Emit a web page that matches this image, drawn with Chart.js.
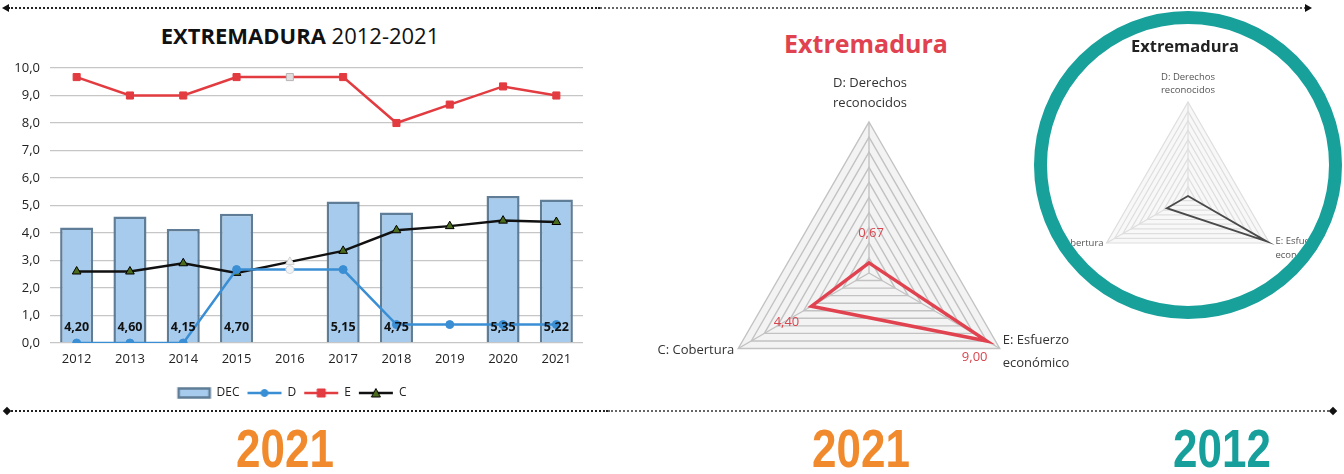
<!DOCTYPE html>
<html>
<head>
<meta charset="utf-8">
<script src="https://cdn.jsdelivr.net/npm/chart.js@4.4.0/dist/chart.umd.min.js"></script>
<style>
  body { margin: 0; width: 1344px; height: 474px; background: #fff; position: relative; overflow: hidden; font-family: "Open Sans", sans-serif; }
  .abs { position: absolute; }
  .dotted { position: absolute; height: 0; border-top: 2px dotted #333; }
  .tip-l { position: absolute; width: 0; height: 0; border-top: 4px solid transparent; border-bottom: 4px solid transparent; border-right: 7px solid #111; }
  .tip-r { position: absolute; width: 0; height: 0; border-top: 4px solid transparent; border-bottom: 4px solid transparent; border-left: 7px solid #111; }
  .dia { position: absolute; width: 6px; height: 6px; background: #111; transform: rotate(45deg); }
  .year { position: absolute; width: 200px; text-align: center; font-family: "Liberation Sans", Arial, sans-serif; font-weight: bold; font-size: 53px; line-height: 1; transform: scaleX(0.83); }
  #ring { position: absolute; left: 1034px; top: 11px; width: 308px; height: 308px; box-sizing: border-box; border: 13px solid #18a09b; border-radius: 50%; overflow: hidden; background: #fff; }
</style>
</head>
<body>

<!-- timeline rules -->
<div class="dotted" style="left:8px; top:7px; width:592px; border-top-color:#222;"></div>
<div class="dotted" style="left:600px; top:7px; width:706px; border-top-color:#666;"></div>
<div class="tip-l" style="left:2px; top:4px;"></div>
<div class="tip-r" style="left:1305px; top:4px;"></div>

<div class="dotted" style="left:8px; top:410px; width:600px; border-top-color:#222;"></div>
<div class="dotted" style="left:608px; top:410px; width:724px; border-top-color:#666;"></div>
<div class="dia" style="left:4px; top:408px;"></div>
<div class="dia" style="left:1330px; top:408px;"></div>

<!-- trend chart -->
<div class="abs" style="left:0; top:23px; width:600px; text-align:center; font-size:22px; line-height:24px; color:#111;"><b>EXTREMADURA</b> 2012-2021</div>
<canvas id="trend" class="abs" width="600" height="410" style="left:0; top:0;"></canvas>

<!-- radar 2021 -->
<div class="abs" style="left:666px; top:26px; width:400px; text-align:center; font-size:25px; font-weight:bold; line-height:34px; color:#e0434f;">Extremadura</div>
<canvas id="radar2021" class="abs" width="500" height="380" style="left:620px; top:60px;"></canvas>

<!-- radar 2012, framed -->
<div id="ring">
  <div class="abs" style="left:0; top:10px; width:276px; text-align:center; font-size:16.5px; font-weight:bold; line-height:24px; color:#222;">Extremadura</div>
  <canvas id="radar2012" class="abs" width="282" height="282" style="left:0; top:0;"></canvas>
</div>

<div class="year" style="left:185px; top:422px; color:#f08a2d;">2021</div>
<div class="year" style="left:761px; top:422px; color:#f08a2d;">2021</div>
<div class="year" style="left:1122px; top:422px; color:#17a09b;">2012</div>

<script>
const years = ['2012', '2013', '2014', '2015', '2016', '2017', '2018', '2019', '2020', '2021'];
const decValues = [4.20, 4.60, 4.15, 4.70, null, 5.15, 4.75, null, 5.35, 5.22];
const dValues = [0, 0, 0, 2.67, 2.67, 2.67, 0.67, 0.67, 0.67, 0.67];
const eValues = [9.67, 9.00, 9.00, 9.67, 9.67, 9.67, 8.00, 8.67, 9.33, 9.00];
const cValues = [2.60, 2.60, 2.90, 2.55, 2.95, 3.35, 4.10, 4.25, 4.45, 4.40];
const estimatedYear = '2016';
const radarAxes = [['D: Derechos', 'reconocidos'], ['E: Esfuerzo', 'económico'], ['C: Cobertura']];

const barFill = '#a6cbec';
const barBorder = '#5f7d97';
const blue = '#3a8ed4';
const red = '#e23b40';
const black = '#111';
const olive = '#4a6a1c';

const comma = (v, d) => v.toFixed(d).replace('.', ',');

// radar series for one year, in axis order D, E, C
function yearValues(year) {
  const i = years.indexOf(year);
  return [dValues[i], eValues[i], cValues[i]];
}

// marker colours: the estimated year gets a pale marker
const markerFill = (normal, pale) => years.map(y => y === estimatedYear ? pale : normal);

// ----- legend icons (line + marker) -----
function makeIcon(draw) {
  const c = document.createElement('canvas');
  c.width = 36; c.height = 12;
  draw(c.getContext('2d'));
  return c;
}
function lineIcon(color, marker, fill) {
  return makeIcon(g => {
    g.strokeStyle = color; g.lineWidth = 2.5;
    g.beginPath(); g.moveTo(1, 6); g.lineTo(35, 6); g.stroke();
    g.fillStyle = fill; g.strokeStyle = color === black ? '#000' : color; g.lineWidth = 1;
    g.beginPath();
    if (marker === 'circle') g.arc(18, 6, 3.5, 0, Math.PI * 2);
    if (marker === 'rect') g.rect(14, 2, 8, 8);
    if (marker === 'triangle') { g.moveTo(18, 1.5); g.lineTo(22.5, 10); g.lineTo(13.5, 10); g.closePath(); }
    g.fill(); g.stroke();
  });
}
const legendIcons = [
  makeIcon(g => {
    g.fillStyle = barFill; g.strokeStyle = barBorder; g.lineWidth = 2.5;
    g.fillRect(3, 1.5, 31, 9); g.strokeRect(3, 1.5, 31, 9);
  }),
  lineIcon(blue, 'circle', blue),
  lineIcon(red, 'rect', red),
  lineIcon(black, 'triangle', olive)
];

// value labels at the foot of each bar
const barLabels = {
  id: 'barLabels',
  afterDatasetsDraw(chart) {
    const ctx = chart.ctx;
    const meta = chart.getDatasetMeta(0);
    ctx.save();
    ctx.font = 'bold 12.5px "Open Sans"';
    ctx.fillStyle = '#111';
    ctx.textAlign = 'center';
    ctx.textBaseline = 'middle';
    meta.data.forEach((bar, i) => {
      const v = chart.data.datasets[0].data[i];
      if (v == null) return;
      ctx.fillText(comma(v, 2), bar.x, bar.base - 15);
    });
    ctx.restore();
  }
};

new Chart(document.getElementById('trend'), {
  data: {
    labels: years,
    datasets: [
      { type: 'bar', label: 'DEC', data: decValues, backgroundColor: barFill, borderColor: barBorder,
        borderWidth: 2.5, barPercentage: 0.62, categoryPercentage: 1, order: 1 },
      { type: 'line', label: 'D', data: dValues, borderColor: blue, borderWidth: 2.5, tension: 0,
        pointStyle: 'circle', pointRadius: 4, pointBorderWidth: 1,
        pointBackgroundColor: markerFill(blue, '#f4f4f4'), pointBorderColor: markerFill(blue, '#cfd8e0'), order: 0 },
      { type: 'line', label: 'E', data: eValues, borderColor: red, borderWidth: 2.5, tension: 0,
        pointStyle: 'rect', pointRadius: 5, pointBorderWidth: 1,
        pointBackgroundColor: markerFill(red, '#e2dede'), pointBorderColor: markerFill(red, '#b9b3b3'), order: 0 },
      { type: 'line', label: 'C', data: cValues, borderColor: black, borderWidth: 2.5, tension: 0,
        pointStyle: 'triangle', pointRadius: 5, pointBorderWidth: 1,
        pointBackgroundColor: markerFill(olive, '#f2f2f2'), pointBorderColor: markerFill('#000', '#d0d0d0'), order: 0 }
    ]
  },
  options: {
    responsive: false,
    animation: false,
    layout: { padding: { top: 68, left: 0, right: 17, bottom: 1 } },
    plugins: {
      tooltip: { enabled: false },
      legend: {
        position: 'bottom',
        labels: {
          usePointStyle: true,
          pointStyleWidth: 34,
          boxHeight: 12,
          padding: 8,
          color: '#222',
          font: { family: 'Open Sans', size: 12 },
          generateLabels: chart => chart.data.datasets.map((ds, i) => ({
            text: ds.label, pointStyle: legendIcons[i], datasetIndex: i, hidden: false,
            lineWidth: 0, fillStyle: 'rgba(0,0,0,0)', strokeStyle: 'rgba(0,0,0,0)', fontColor: '#222'
          }))
        }
      }
    },
    scales: {
      x: {
        grid: { display: false, drawTicks: false },
        border: { display: false },
        ticks: { padding: 8, color: '#222', font: { family: 'Open Sans', size: 13 } },
        afterFit: s => { s.height = 36; }
      },
      y: {
        min: 0, max: 10,
        grid: { color: '#c6c6c6', lineWidth: 1.3, drawTicks: false },
        border: { display: false },
        ticks: { stepSize: 1, padding: 10, color: '#222', font: { family: 'Open Sans', size: 13 },
                 callback: v => comma(v, 1) },
        afterFit: s => { s.width = 50; }
      }
    }
  },
  plugins: [barLabels]
});

// ----- radar charts -----
// axis names and value tags drawn next to the scale's own vertex positions
function radarText(cfg) {
  return {
    id: 'radarText',
    afterDraw(chart) {
      const r = chart.scales.r;
      const ctx = chart.ctx;
      const data = chart.data.datasets[0].data;
      ctx.save();
      ctx.textBaseline = 'middle';
      ctx.font = cfg.axisFont;
      ctx.fillStyle = cfg.axisColor;
      radarAxes.forEach((lines, i) => {
        const p = r.getPointPositionForValue(i, r.max);
        const a = cfg.axis[i];
        ctx.textAlign = a.align;
        lines.forEach((t, k) => ctx.fillText(t, p.x + a.dx, p.y + a.dy + k * a.lh));
      });
      if (cfg.tags) {
        ctx.font = cfg.tagFont;
        ctx.fillStyle = cfg.tagColor;
        ctx.textAlign = 'center';
        data.forEach((v, i) => {
          const p = r.getPointPositionForValue(i, v);
          ctx.fillText(comma(v, 2), p.x + cfg.tags[i].dx, p.y + cfg.tags[i].dy);
        });
      }
      ctx.restore();
    }
  };
}

function radar(id, values, opt) {
  return new Chart(document.getElementById(id), {
    type: 'radar',
    data: {
      labels: radarAxes.map(a => a.join(' ')),
      datasets: [{ data: values, borderColor: opt.line, borderWidth: opt.lineWidth, fill: false,
                   backgroundColor: 'rgba(0,0,0,0)', pointRadius: 0, tension: 0 }]
    },
    options: {
      responsive: false,
      animation: false,
      layout: { padding: opt.padding },
      plugins: { legend: { display: false }, tooltip: { enabled: false } },
      scales: {
        r: {
          min: 0, max: 10,
          ticks: { display: false, stepSize: 1 },
          pointLabels: { display: false },
          grid: { color: opt.grid, lineWidth: opt.gridWidth },
          angleLines: { color: opt.grid, lineWidth: opt.gridWidth },
          backgroundColor: opt.bg
        }
      }
    },
    plugins: [radarText(opt.text)]
  });
}

radar('radar2021', yearValues('2021'), {
  line: '#e0434f', lineWidth: 3.5,
  grid: '#c2c2c2', gridWidth: 1.4, bg: '#f3f3f3',
  padding: { left: 98, right: 100, top: 62, bottom: 16 },
  text: {
    axisFont: '13px "Open Sans"', axisColor: '#333',
    axis: [
      { dx: 1, dy: -39, lh: 20, align: 'center' },
      { dx: 3, dy: -8, lh: 23, align: 'left' },
      { dx: -4, dy: 2, lh: 0, align: 'right' }
    ],
    tagFont: '13px "Open Sans"', tagColor: '#d9454f',
    tags: [{ dx: 2, dy: -30 }, { dx: -12, dy: 16 }, { dx: -25, dy: 16 }]
  }
});

radar('radar2012', yearValues('2012'), {
  line: '#4a4a4a', lineWidth: 1.8,
  grid: '#dedede', gridWidth: 1.2, bg: '#f8f8f8',
  padding: { left: 47, right: 47, top: 78, bottom: 16 },
  text: {
    axisFont: '9.5px "Open Sans"', axisColor: '#555',
    axis: [
      { dx: 0, dy: -25, lh: 13, align: 'center' },
      { dx: 6, dy: -2, lh: 14, align: 'left' },
      { dx: -3, dy: 0, lh: 0, align: 'right' }
    ]
  }
});
</script>
</body>
</html>
